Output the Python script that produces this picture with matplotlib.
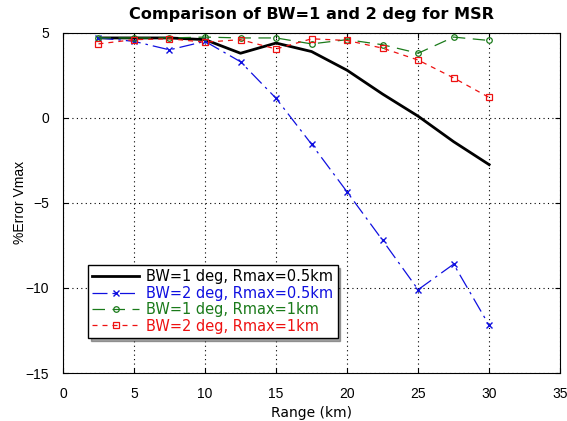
import matplotlib
matplotlib.use('Agg')
import matplotlib.pyplot as plt

plt.rcParams['font.family'] = ['Liberation Sans', 'DejaVu Sans']

# 数据：距离 (km) 与 %Error Vmax
rng = [2.5, 5, 7.5, 10, 12.5, 15, 17.5, 20, 22.5, 25, 27.5, 30]
bw1_r05 = [4.7, 4.7, 4.7, 4.6, 3.8, 4.4, 3.9, 2.8, 1.4, 0.1, -1.4, -2.75]
bw2_r05 = [4.7, 4.5, 4.0, 4.5, 3.3, 1.15, -1.55, -4.35, -7.2, -10.1, -8.6, -12.2]
bw1_r1 = [4.7, 4.7, 4.7, 4.75, 4.7, 4.7, 4.35, 4.6, 4.3, 3.8, 4.75, 4.55]
bw2_r1 = [4.35, 4.6, 4.65, 4.45, 4.6, 4.05, 4.65, 4.55, 4.1, 3.4, 2.35, 1.2]

labels = ['BW=1 deg, Rmax=0.5km', 'BW=2 deg, Rmax=0.5km',
          'BW=1 deg, Rmax=1km', 'BW=2 deg, Rmax=1km']
cols = ['black', '#1010e0', '#1a7a1a', '#ee1111']

fig = plt.figure(figsize=(5.67, 4.21), dpi=100)
ax = fig.add_axes([0.111, 0.114, 0.877, 0.808])

ax.plot(rng, bw1_r05, color=cols[0], lw=2, label=labels[0])
ax.plot(rng, bw2_r05, color=cols[1], lw=0.9, dashes=(12, 4, 2, 4),
        marker='x', ms=4, mew=1, label=labels[1])
ax.plot(rng, bw1_r1, color=cols[2], lw=0.9, dashes=(10, 6),
        marker='o', ms=4, mfc='none', mew=0.9, label=labels[2])
ax.plot(rng, bw2_r1, color=cols[3], lw=0.9, dashes=(4, 4),
        marker='s', ms=4.5, mfc='none', mew=0.9, label=labels[3])

ax.set_xlim(0, 35)
ax.set_ylim(-15, 5)
ax.set_xticks(range(0, 36, 5))
ax.set_yticks([-15, -10, -5, 0, 5])
ax.grid(True, color='black', linestyle=(0, (1, 3)), lw=0.8)
ax.tick_params(direction='in', top=True, right=True, labelsize=10, pad=10)
for s in ax.spines.values():
    s.set_linewidth(0.8)

ax.set_xlabel('Range (km)', fontsize=10, labelpad=4, family='DejaVu Sans')
ax.set_ylabel('%Error Vmax', fontsize=10, labelpad=-1)
ax.set_title('Comparison of BW=1 and 2 deg for MSR', fontsize=11.6,
             fontweight='bold', pad=10, family='DejaVu Sans')

leg = ax.legend(loc='lower left', bbox_to_anchor=(0.05, 0.103),
                borderaxespad=0,
                prop={'family': 'DejaVu Sans', 'size': 10.5},
                fancybox=False, shadow=True, edgecolor='black', framealpha=1,
                handlelength=3.2, handletextpad=0.5, borderpad=0.3,
                labelspacing=0.1)
leg.get_frame().set_linewidth(1)
for t, c in zip(leg.get_texts(), cols):
    t.set_color(c)

fig.savefig('out.png', dpi=100)
